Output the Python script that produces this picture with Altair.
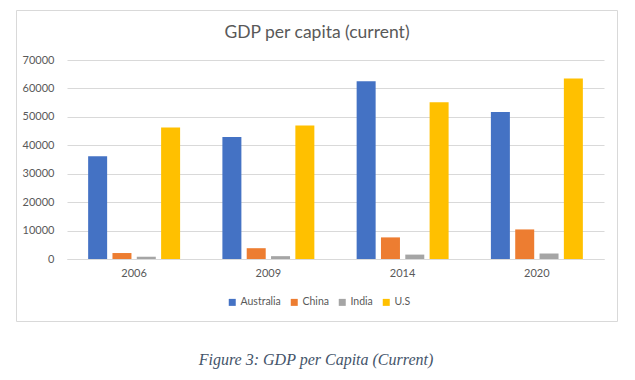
import altair as alt
import pandas as pd

years = ["2006", "2009", "2014", "2020"]
countries = ["Australia", "China", "India", "U.S"]
australia = [36100, 42900, 62500, 51700]
china = [2100, 3800, 7600, 10400]
india = [800, 1000, 1550, 1930]
us = [46300, 47000, 55100, 63500]
colors = ["#4472C4", "#ED7D31", "#A5A5A5", "#FFC000"]
y_ticks = [0, 10000, 20000, 30000, 40000, 50000, 60000, 70000]
title_text = "GDP per capita (current)"
caption_text = "Figure 3: GDP per Capita (Current)"

rows = []
for series_name, vals in zip(countries, [australia, china, india, us]):
    for yr, v in zip(years, vals):
        rows.append({"year": yr, "country": series_name, "value": v})
df = pd.DataFrame(rows)

FONT = "Lato"
TXT = "#595959"

one = alt.Data(values=[{}])

frame = alt.Chart(one).mark_rect(fillOpacity=0, stroke="#D9D9D9", strokeWidth=1, clip=False).encode(
    x=alt.value(-50.5), x2=alt.value(550.5), y=alt.value(-49.5), y2=alt.value(261.5)
)

bars = alt.Chart(df).mark_bar().encode(
    x=alt.X("year:N", sort=years,
            scale=alt.Scale(paddingInner=0.315, paddingOuter=0.1575),
            axis=alt.Axis(title=None, labelAngle=0, ticks=False, domain=True,
                          domainColor="#D9D9D9", labelColor=TXT, labelFont=FONT,
                          labelFontSize=11, labelPadding=8, grid=False)),
    xOffset=alt.XOffset("country:N", sort=countries,
                        scale=alt.Scale(paddingInner=0.219, paddingOuter=0)),
    y=alt.Y("value:Q", scale=alt.Scale(domain=[0, 70000], nice=False),
            axis=alt.Axis(title=None, values=y_ticks, format="d", ticks=False, domain=False,
                          grid=True, gridColor="#D9D9D9", labelColor=TXT, labelFont=FONT,
                          labelFontSize=11, labelPadding=13)),
    color=alt.Color("country:N", sort=countries,
                    scale=alt.Scale(domain=countries, range=colors),
                    legend=alt.Legend(title=None, orient="none", direction="horizontal",
                                      legendX=160, legendY=237, symbolType="square",
                                      symbolSize=49, symbolStrokeWidth=0,
                                      labelColor=TXT, labelFont=FONT, labelFontSize=10.5,
                                      columnPadding=8, labelOffset=3)),
)

title = alt.Chart(one).mark_text(font=FONT, fontSize=17.5, color=TXT, baseline="middle",
                                 align="center").encode(
    x=alt.value(250), y=alt.value(-27), text=alt.value(title_text))

caption = alt.Chart(one).mark_text(font="Liberation Serif", fontStyle="italic", fontSize=16,
                                   color="#44546A", baseline="middle", align="center").encode(
    x=alt.value(249), y=alt.value(300), text=alt.value(caption_text))

chart = alt.layer(frame, bars, title, caption).properties(
    width=537, height=199,
    autosize=alt.AutoSizeParams(type="none"),
    padding={"left": 59, "top": 52, "right": 23, "bottom": 113},
).configure_view(stroke=None)

chart.save("out.html", embed_options={"renderer": "svg", "actions": False})
